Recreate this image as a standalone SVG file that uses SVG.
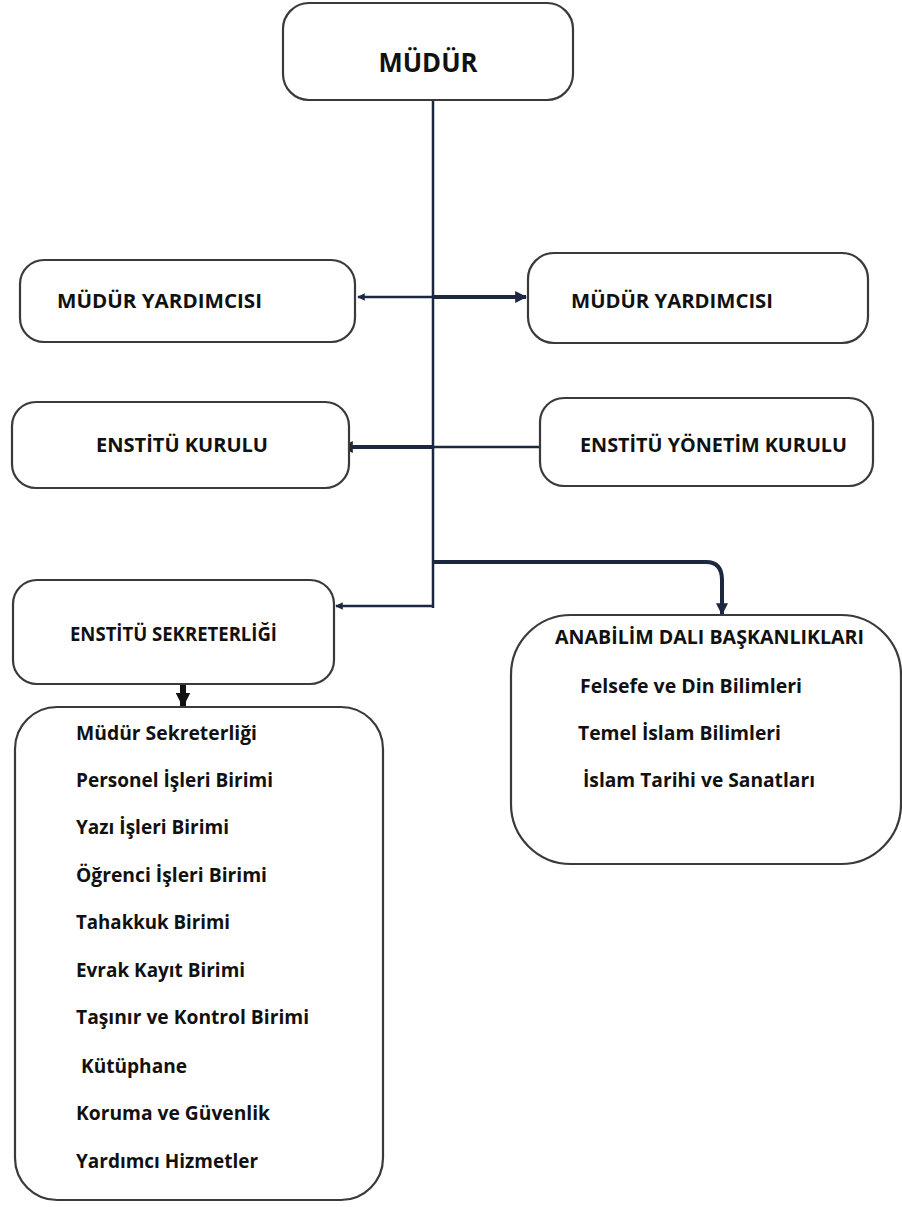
<svg xmlns="http://www.w3.org/2000/svg" width="902" height="1207" viewBox="0 0 902 1207">
<defs>
<style>
.box{fill:#fff;stroke:#3a3a3a;stroke-width:2.2}
.t{font-family:"Open Sans","Liberation Sans",sans-serif;font-weight:bold;fill:#111}
.cap{font-size:19px}
.item{font-size:20px}
.ln{stroke:#1c2740;stroke-width:2.5;fill:none}
.thick{stroke:#1c2740;stroke-width:4;fill:none}
</style>
<marker id="ah" viewBox="0 0 10 10" refX="9" refY="5" markerWidth="3" markerHeight="3" orient="auto">
<path d="M0,0 L10,5 L0,10 z" fill="#1c2740"/>
</marker>
<marker id="ahb" viewBox="0 0 10 10" refX="9" refY="5" markerWidth="2.5" markerHeight="2.5" orient="auto">
<path d="M0,0 L10,5 L0,10 z" fill="#111"/>
</marker>
</defs>
<rect width="902" height="1207" fill="#fff"/>

<g id="connectors">
<path class="ln" d="M433,100 V608"/>
<path class="ln" d="M433,297 H358" marker-end="url(#ah)"/>
<path class="thick" d="M433,297 H526" marker-end="url(#ah)"/>
<path class="thick" d="M433,447 H342" marker-end="url(#ah)"/>
<path class="ln" d="M433,447 H539"/>
<path class="ln" d="M433,606 H336" marker-end="url(#ah)"/>
<path class="thick" d="M433,562 H706 Q722,562 722,580 V614" marker-end="url(#ah)"/>
<path d="M183,684 V706" stroke="#111" stroke-width="6" fill="none" marker-end="url(#ahb)"/>
</g>

<g id="mudur">
<rect class="box" x="283" y="3" width="290" height="97" rx="26"/>
<text class="t" x="428" y="72" font-size="27" text-anchor="middle" textLength="99" lengthAdjust="spacingAndGlyphs">MÜDÜR</text>
</g>

<g id="mudur-yardimcisi-1">
<rect class="box" x="20" y="260" width="335" height="82" rx="24"/>
<text class="t cap" x="57" y="308" textLength="205" lengthAdjust="spacingAndGlyphs">MÜDÜR YARDIMCISI</text>
</g>

<g id="mudur-yardimcisi-2">
<rect class="box" x="528" y="253" width="340" height="90" rx="26"/>
<text class="t cap" x="571" y="308" textLength="202" lengthAdjust="spacingAndGlyphs">MÜDÜR YARDIMCISI</text>
</g>

<g id="enstitu-kurulu">
<rect class="box" x="12" y="402" width="337" height="86" rx="24"/>
<text class="t cap" x="96" y="452" textLength="172" lengthAdjust="spacingAndGlyphs">ENSTİTÜ KURULU</text>
</g>

<g id="enstitu-yonetim-kurulu">
<rect class="box" x="540" y="398" width="333" height="88" rx="24"/>
<text class="t cap" x="580" y="452" textLength="267" lengthAdjust="spacingAndGlyphs">ENSTİTÜ YÖNETİM KURULU</text>
</g>

<g id="enstitu-sekreterligi">
<rect class="box" x="13" y="580" width="321" height="104" rx="24"/>
<text class="t cap" x="70" y="641" textLength="207" lengthAdjust="spacingAndGlyphs">ENSTİTÜ SEKRETERLİĞİ</text>
</g>

<g id="birimler">
<rect class="box" x="15" y="707" width="368" height="493" rx="42"/>
<text class="t item" x="76" y="740" textLength="181" lengthAdjust="spacingAndGlyphs">Müdür Sekreterliği</text>
<text class="t item" x="76" y="787" textLength="197" lengthAdjust="spacingAndGlyphs">Personel İşleri Birimi</text>
<text class="t item" x="76" y="834" textLength="153" lengthAdjust="spacingAndGlyphs">Yazı İşleri Birimi</text>
<text class="t item" x="76" y="882" textLength="191" lengthAdjust="spacingAndGlyphs">Öğrenci İşleri Birimi</text>
<text class="t item" x="76" y="929" textLength="154" lengthAdjust="spacingAndGlyphs">Tahakkuk Birimi</text>
<text class="t item" x="76" y="977" textLength="169" lengthAdjust="spacingAndGlyphs">Evrak Kayıt Birimi</text>
<text class="t item" x="76" y="1024" textLength="233" lengthAdjust="spacingAndGlyphs">Taşınır ve Kontrol Birimi</text>
<text class="t item" x="81" y="1073" textLength="106" lengthAdjust="spacingAndGlyphs">Kütüphane</text>
<text class="t item" x="76" y="1120" textLength="194" lengthAdjust="spacingAndGlyphs">Koruma ve Güvenlik</text>
<text class="t item" x="76" y="1168" textLength="182" lengthAdjust="spacingAndGlyphs">Yardımcı Hizmetler</text>
</g>

<g id="anabilim">
<rect class="box" x="511" y="615" width="390" height="249" rx="60"/>
<text class="t item" x="555" y="644" textLength="309" lengthAdjust="spacingAndGlyphs">ANABİLİM DALI BAŞKANLIKLARI</text>
<text class="t item" x="580" y="693" textLength="222" lengthAdjust="spacingAndGlyphs">Felsefe ve Din Bilimleri</text>
<text class="t item" x="578" y="740" textLength="203" lengthAdjust="spacingAndGlyphs">Temel İslam Bilimleri</text>
<text class="t item" x="583" y="787" textLength="232" lengthAdjust="spacingAndGlyphs">İslam Tarihi ve Sanatları</text>
</g>
</svg>
